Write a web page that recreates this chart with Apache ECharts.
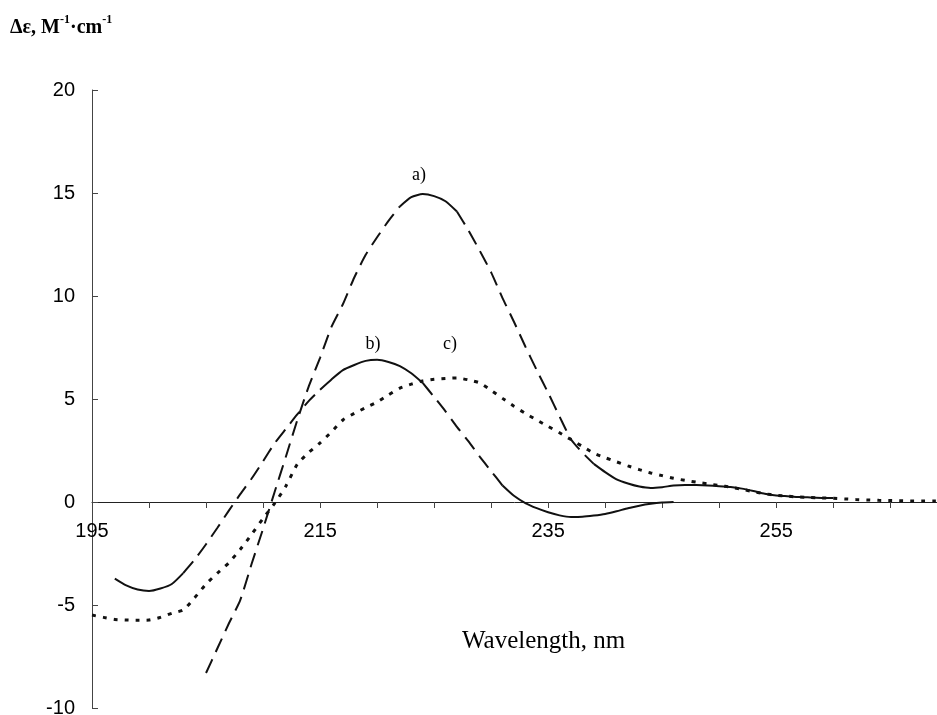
<!DOCTYPE html>
<html>
<head>
<meta charset="utf-8">
<script src="https://cdn.jsdelivr.net/npm/echarts@6/dist/echarts.min.js"></script>
<style>
  html, body { margin: 0; padding: 0; background: #fff; }
  #main { width: 937px; height: 715px; }
</style>
</head>
<body>
<div id="main"></div>
<script>
// 波长刻度标签（每 20 nm 标一个）
var xLabels = [195, 215, 235, 255];

// 曲线 a)
var nmA = [205, 206, 207, 208, 209, 210, 211, 212, 213, 214, 215, 216, 217, 218, 219, 220,
  221, 222, 223, 224, 225, 226, 227, 228, 229, 230, 231, 232, 233, 234, 235, 236, 237, 238,
  239, 240, 241, 242, 243, 244, 245, 246, 247, 248, 249, 250, 251, 252, 253, 254, 255, 256,
  257, 258, 259, 260];
var deA = [-8.3, -7.1, -5.9, -4.76, -3.0, -1.3, 0.46, 2.2, 3.97, 5.6, 7.0, 8.5, 9.6, 10.9, 12.0, 12.85,
  13.65, 14.35, 14.8, 14.95, 14.85, 14.6, 14.1, 13.2, 12.2, 11.15, 9.9, 8.75, 7.55, 6.4, 5.3, 4.15, 3.05, 2.4,
  1.85, 1.45, 1.1, 0.9, 0.75, 0.68, 0.72, 0.8, 0.83, 0.82, 0.8, 0.77, 0.73, 0.65, 0.53, 0.4, 0.32, 0.28,
  0.24, 0.22, 0.2, 0.19];

// 曲线 b)
var nmB = [197, 198, 199, 200, 201, 202, 203, 204, 205, 206, 207, 208, 209, 210, 211, 212, 213,
  214, 215, 216, 217, 218, 219, 220, 221, 222, 223, 224, 225, 226, 227, 228, 229, 230, 231,
  232, 233, 234, 235, 236, 237, 238, 239, 240, 241, 242, 243, 244, 245, 246];
var deB = [-3.72, -4.05, -4.25, -4.32, -4.2, -3.98, -3.45, -2.8, -2.05, -1.25, -0.42, 0.38, 1.14, 1.98, 2.84, 3.55, 4.25,
  4.9, 5.45, 5.95, 6.4, 6.65, 6.85, 6.9, 6.8, 6.6, 6.25, 5.78, 5.1, 4.4, 3.65, 2.95, 2.2, 1.5, 0.8,
  0.3, -0.05, -0.3, -0.5, -0.65, -0.73, -0.72, -0.66, -0.58, -0.45, -0.3, -0.18, -0.09, -0.03, 0];

// 曲线 c)
var nmC = [195, 196, 197, 198, 199, 200, 201, 202, 203, 204, 205, 206, 207, 208, 209, 210, 211,
  212, 213, 214, 215, 216, 217, 218, 219, 220, 221, 222, 223, 224, 225, 226, 227, 228, 229,
  230, 231, 232, 233, 234, 235, 236, 237, 238, 239, 240, 241, 242, 243, 244, 245, 246, 247,
  248, 249, 250, 251, 252, 253, 254, 255, 256, 257, 258, 259, 260, 261, 262, 263, 264, 265,
  266, 267, 268, 269];
var deC = [-5.49, -5.6, -5.7, -5.73, -5.74, -5.73, -5.6, -5.4, -5.24, -4.65, -3.98, -3.45, -2.95, -2.3, -1.57, -0.8, -0.08,
  0.77, 1.83, 2.4, 2.87, 3.4, 3.98, 4.3, 4.58, 4.85, 5.2, 5.53, 5.72, 5.88, 5.96, 6.0, 6.02, 5.93, 5.78,
  5.42, 5.03, 4.65, 4.3, 3.98, 3.67, 3.36, 3.03, 2.7, 2.37, 2.15, 1.95, 1.75, 1.57, 1.41, 1.28, 1.15, 1.05,
  0.96, 0.88, 0.8, 0.72, 0.62, 0.5, 0.4, 0.33, 0.28, 0.24, 0.22, 0.2, 0.18, 0.15, 0.12, 0.1, 0.08, 0.07,
  0.06, 0.05, 0.05, 0.05];

// 线型分段（扫描原图里同一条线有实线/虚线交替）
var partsA = [[205, 222, 'dash'], [222, 227, 'solid'], [227, 239, 'dash'], [239, 260, 'solid']];
var partsB = [[197, 203, 'solid'], [203, 215, 'dash'], [215, 224, 'solid'], [224, 231, 'dash'], [231, 246, 'solid']];
var partsC = [[195, 269, 'dot']];

var lineTypes = {
  solid: 'solid',
  dash: [15, 8],
  dot: [4, 7]
};

function buildSeries(name, xs, ys, parts) {
  return parts.map(function (p) {
    var pts = [];
    for (var i = 0; i < xs.length; i++) {
      if (xs[i] >= p[0] && xs[i] <= p[1]) pts.push([xs[i], ys[i]]);
    }
    return {
      name: name,
      type: 'line',
      data: pts,
      showSymbol: false,
      smooth: 0.2,
      silent: true,
      lineStyle: {
        color: '#111',
        width: p[2] === 'dot' ? 3 : 2,
        type: lineTypes[p[2]]
      }
    };
  });
}

var serif = "'Liberation Serif', 'Times New Roman', serif";
var sans = "'Liberation Sans', Arial, sans-serif";

var chart = echarts.init(document.getElementById('main'), null, { renderer: 'canvas' });

var option = {
  animation: false,
  backgroundColor: '#fff',
  grid: { left: 92, right: 0, top: 90, bottom: 7, containLabel: false, outerBoundsMode: 'none' },
  xAxis: {
    type: 'value',
    min: 195,
    max: 269.1,
    interval: 5,
    // 横轴画在 y = 0 处（-10..20 共 618px，0 在距底部 206px 处）
    offset: -206,
    axisLine: { onZero: false, lineStyle: { color: '#222', width: 1 } },
    axisTick: { show: true, length: 6, lineStyle: { color: '#444' } },
    splitLine: { show: false },
    axisLabel: {
      margin: 19,
      color: '#000',
      fontFamily: sans,
      fontSize: 20,
      showMaxLabel: false,
      formatter: function (v) {
        return xLabels.indexOf(v) >= 0 ? String(v) : '';
      }
    }
  },
  yAxis: {
    type: 'value',
    min: -10,
    max: 20,
    interval: 5,
    axisLine: { show: true, lineStyle: { color: '#444', width: 1 } },
    axisTick: { show: true, inside: true, length: 6, lineStyle: { color: '#444' } },
    splitLine: { show: false },
    axisLabel: {
      margin: 17,
      color: '#000',
      fontFamily: sans,
      fontSize: 20
    }
  },
  graphic: [
    {
      type: 'text', left: 10, top: 14,
      style: {
        text: '{m|Δε, M}{s|-1}{m|·cm}{s|-1}',
        rich: {
          m: { fontFamily: serif, fontWeight: 'bold', fontSize: 20, lineHeight: 24, fill: '#000', verticalAlign: 'bottom' },
          s: { fontFamily: serif, fontWeight: 'bold', fontSize: 12, lineHeight: 24, fill: '#000', verticalAlign: 'top' }
        }
      }
    },
    { type: 'text', x: 419, y: 175, style: { text: 'a)', font: '18px ' + serif, fill: '#000', align: 'center', verticalAlign: 'middle' } },
    { type: 'text', x: 373, y: 344, style: { text: 'b)', font: '18px ' + serif, fill: '#000', align: 'center', verticalAlign: 'middle' } },
    { type: 'text', x: 450, y: 344, style: { text: 'c)', font: '18px ' + serif, fill: '#000', align: 'center', verticalAlign: 'middle' } },
    { type: 'text', x: 462, y: 641, style: { text: 'Wavelength, nm', font: '25px ' + serif, fill: '#000', align: 'left', verticalAlign: 'middle' } }
  ],
  series: [].concat(
    buildSeries('a)', nmA, deA, partsA),
    buildSeries('b)', nmB, deB, partsB),
    buildSeries('c)', nmC, deC, partsC)
  )
};

chart.setOption(option);
</script>
</body>
</html>
